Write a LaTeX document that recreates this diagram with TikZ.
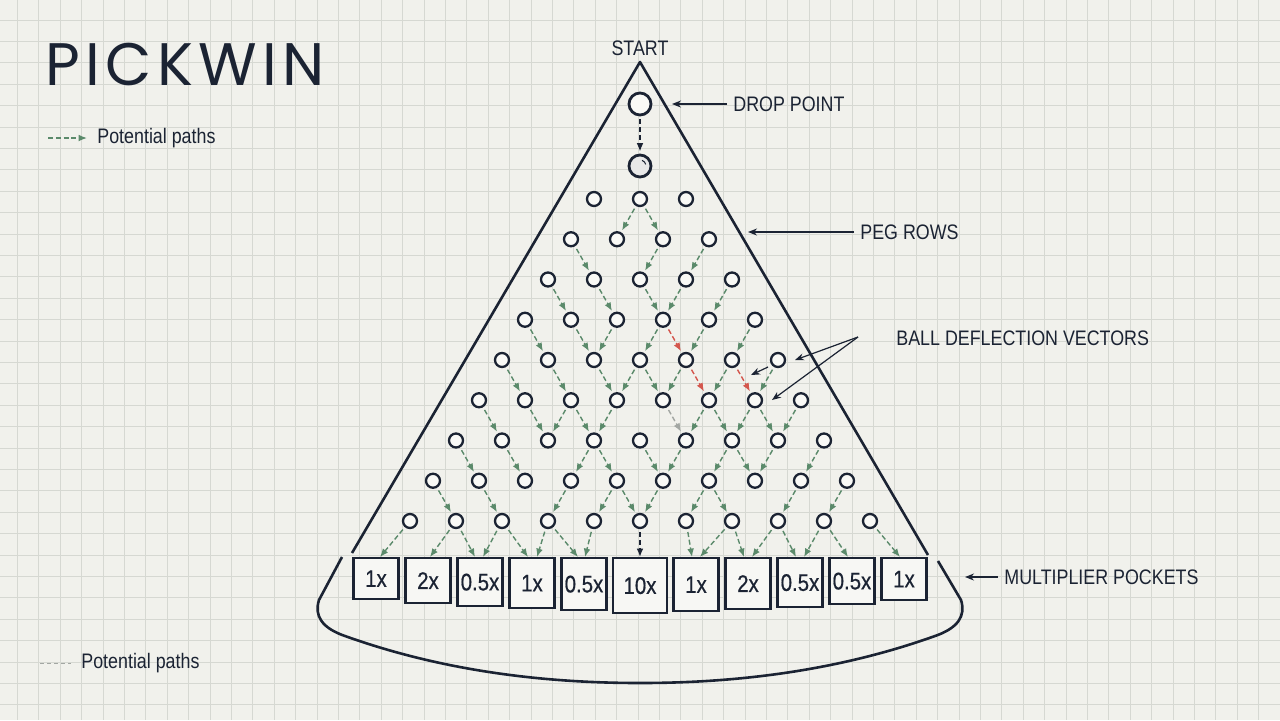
\documentclass[tikz,border=0pt]{standalone}
\usepackage{fontspec}
\setmainfont{Liberation Sans}
\newfontfamily\labelfont[FakeStretch=0.85]{Liberation Sans}
\newfontfamily\pocketfont[FakeStretch=0.85, FakeBold=0.6]{Liberation Sans}
\newfontfamily\titlefont[LetterSpace=9]{Poppins}
\usetikzlibrary{arrows.meta}

\definecolor{paper}{HTML}{F1F1EC}
\definecolor{gridgray}{HTML}{D6D8D2}
\definecolor{ink}{HTML}{1B2333}
\definecolor{routegreen}{HTML}{5B8A6B}
\definecolor{routered}{HTML}{D4574E}
\definecolor{routegray}{HTML}{A3A7A3}

\tikzset{
	gridline/.style={gridgray, line width=0.5pt},
	frame/.style={ink, line width=1.3pt, line join=round},
	peg/.style={circle, draw=ink, line width=1.15pt, fill=white!55!paper, minimum size=7pt, inner sep=0pt},
	bigring/.style={circle, draw=ink, line width=1.4pt, fill=white!55!paper, minimum size=11pt, inner sep=0pt},
	pocket/.style={draw=ink, line width=1.1pt, fill=white!40!paper, anchor=north, inner sep=0pt, text=ink, font=\pocketfont\fontsize{12}{14}\selectfont},
	note/.style={text=ink, inner sep=3pt, font=\labelfont\fontsize{10.5}{12}\selectfont},
	route/.style={routegreen, line width=0.7pt, dash pattern=on 2.5pt off 1.4pt, -{Latex[length=4.2pt,width=3.4pt]}, shorten <=1.5pt, shorten >=1pt},
	hotroute/.style={route, routered},
	fadedroute/.style={route, routegray},
	fallroute/.style={route, ink, line width=0.8pt},
	callout/.style={ink, line width=0.6pt, -{Stealth[length=4.5pt,width=3.5pt]}}
}

\begin{document}
\begin{tikzpicture}[x=0.5pt, y=-0.5pt]
	\useasboundingbox (0,0) rectangle (1280,720);
	\fill[paper] (0,0) rectangle (1280,720);
	% graph paper
	\foreach \i in {0,...,59}
		\draw[gridline] ({17.5+21.4*\i},0) -- ({17.5+21.4*\i},720);
	\foreach \j in {0,...,32}
		\draw[gridline] (0,{20+21.4*\j}) -- (1280,{20+21.4*\j});

	% title and legends
	\node[anchor=west, inner sep=0pt, text=ink, font=\titlefont\fontsize{30}{36}\selectfont] (title) at (45,64) {PICKWIN};
	\coordinate (legend-top-start) at (45,138);
	\node[note, anchor=west] (legend-top) at (91,138) {Potential paths};
	\draw[route, shorten >=2pt] (legend-top-start) -- (legend-top);
	\coordinate (legend-bottom-start) at (40,663);
	\node[note, anchor=west] (legend-bottom) at (75,663) {Potential paths};
	\draw[routegray, line width=0.5pt, dash pattern=on 2pt off 1.5pt, shorten >=2pt] (legend-bottom-start) -- (legend-bottom);

	% board outline
	\draw[frame] (352,553) -- (640,62) -- (928,555);
	\draw[frame] (342,557) -- (319,600) .. controls (314,616) and (322,628) .. (345,636) .. controls (440,670) and (540,683) .. (640,683) .. controls (740,683) and (840,670) .. (935,636) .. controls (958,628) and (966,616) .. (961,600) -- (938,561);

	% drop point and ball
	\node[note] (start) at (640,48) {START};
	\node[bigring] (drop) at (640,104) {};
	\node[bigring, fill=gray!18!white] (ball) at (640,166) {};
	\draw[ink, line width=0.5pt] ([shift={(70:3pt)}]ball.center) arc[start angle=70, end angle=15, radius=3pt];
	\draw[fallroute] (drop) -- (ball);

	% pegs
	\foreach \r in {1,...,9}{
		\pgfmathtruncatemacro{\last}{\r+1}
		\foreach \k in {0,...,\last}
			\node[peg] (peg-\r-\k) at ({640+23*(2*\k-\r-1)}, {199+40.25*(\r-1)}) {};
	}

	% pockets
	\foreach \i/\x/\w/\h/\val in {1/376/22.5/20.5/1x, 2/428/22.5/22.5/2x, 3/480/22.5/24/0.5x, 4/532/22.5/25/1x, 5/584/22.5/26/0.5x, 6/640/27/27.5/10x, 7/696/22.5/26.5/1x, 8/748/22.5/25.5/2x, 9/800/22.5/24.5/0.5x, 10/852/22.5/23/0.5x, 11/904/22.5/21/1x}
		\node[pocket, minimum width=\w pt, minimum height=\h pt] (pocket-\i) at (\x,557) {\val};

	% deflection paths
	\foreach \s/\t in {1-1/2-1, 1-1/2-2,
			2-0/3-1, 2-2/3-2, 2-3/3-3,
			3-0/4-1, 3-1/4-2, 3-2/4-3, 3-3/4-3, 3-4/4-4,
			4-0/5-1, 4-1/5-2, 4-2/5-2, 4-3/5-3, 4-4/5-4, 4-5/5-5,
			5-0/6-1, 5-1/6-2, 5-2/6-3, 5-3/6-3, 5-3/6-4, 5-4/6-4, 5-5/6-5, 5-6/6-6,
			6-0/7-1, 6-1/7-2, 6-2/7-2, 6-2/7-3, 6-3/7-3, 6-5/7-5, 6-5/7-6, 6-6/7-6, 6-6/7-7, 6-7/7-7,
			7-0/8-1, 7-1/8-2, 7-3/8-3, 7-3/8-4, 7-4/8-5, 7-5/8-5, 7-6/8-6, 7-6/8-7, 7-7/8-7, 7-8/8-8,
			8-0/9-1, 8-1/9-2, 8-3/9-3, 8-4/9-4, 8-4/9-5, 8-5/9-5, 8-6/9-6, 8-6/9-7, 8-8/9-8, 8-9/9-9}
		\draw[route] (peg-\s) -- (peg-\t);
	\foreach \s/\t in {4-3/5-4, 5-4/6-5, 5-5/6-6}
		\draw[hotroute] (peg-\s) -- (peg-\t);
	\draw[fadedroute] (peg-6-4) -- (peg-7-5);
	\foreach \s/\p/\dx in {0/1/2, 1/2/1, 1/3/-2.5, 2/3/1.5, 2/4/-2, 3/4/2.5, 3/5/-3, 4/5/0.5, 6/7/-2, 7/7/2, 7/8/-2, 8/8/2, 8/9/-2, 9/9/2, 9/10/-2, 10/11/-2}
		\draw[route, shorten >=0pt] (peg-9-\s) -- ([xshift=\dx pt]pocket-\p.north);
	\draw[fallroute, shorten >=0pt] (peg-9-5) -- (pocket-6.north);

	% callouts
	\node[note, anchor=west] (drop-label) at (727,104) {DROP POINT};
	\coordinate (drop-tip) at (672,104);
	\draw[callout] (drop-label) -- (drop-tip);
	\node[note, anchor=west] (rows-label) at (854,232) {PEG ROWS};
	\coordinate (rows-tip) at (748,232);
	\draw[callout] (rows-label) -- (rows-tip);
	\node[note, anchor=west] (vectors-label) at (890,338) {BALL DEFLECTION VECTORS};
	\coordinate (vectors-fork) at (858,337);
	\coordinate (vectors-tip-a) at (795,360);
	\coordinate (vectors-tip-b) at (772,400);
	\draw[callout] (vectors-fork) -- (vectors-tip-a);
	\draw[callout] (vectors-fork) -- (vectors-tip-b);
	\coordinate (vectors-short) at (768,367);
	\coordinate (vectors-tip-c) at (751,375);
	\draw[callout] (vectors-short) -- (vectors-tip-c);
	\node[note, anchor=west] (pockets-label) at (998,577) {MULTIPLIER POCKETS};
	\coordinate (pockets-tip) at (965,577);
	\draw[callout] (pockets-label) -- (pockets-tip);
\end{tikzpicture}
\end{document}
